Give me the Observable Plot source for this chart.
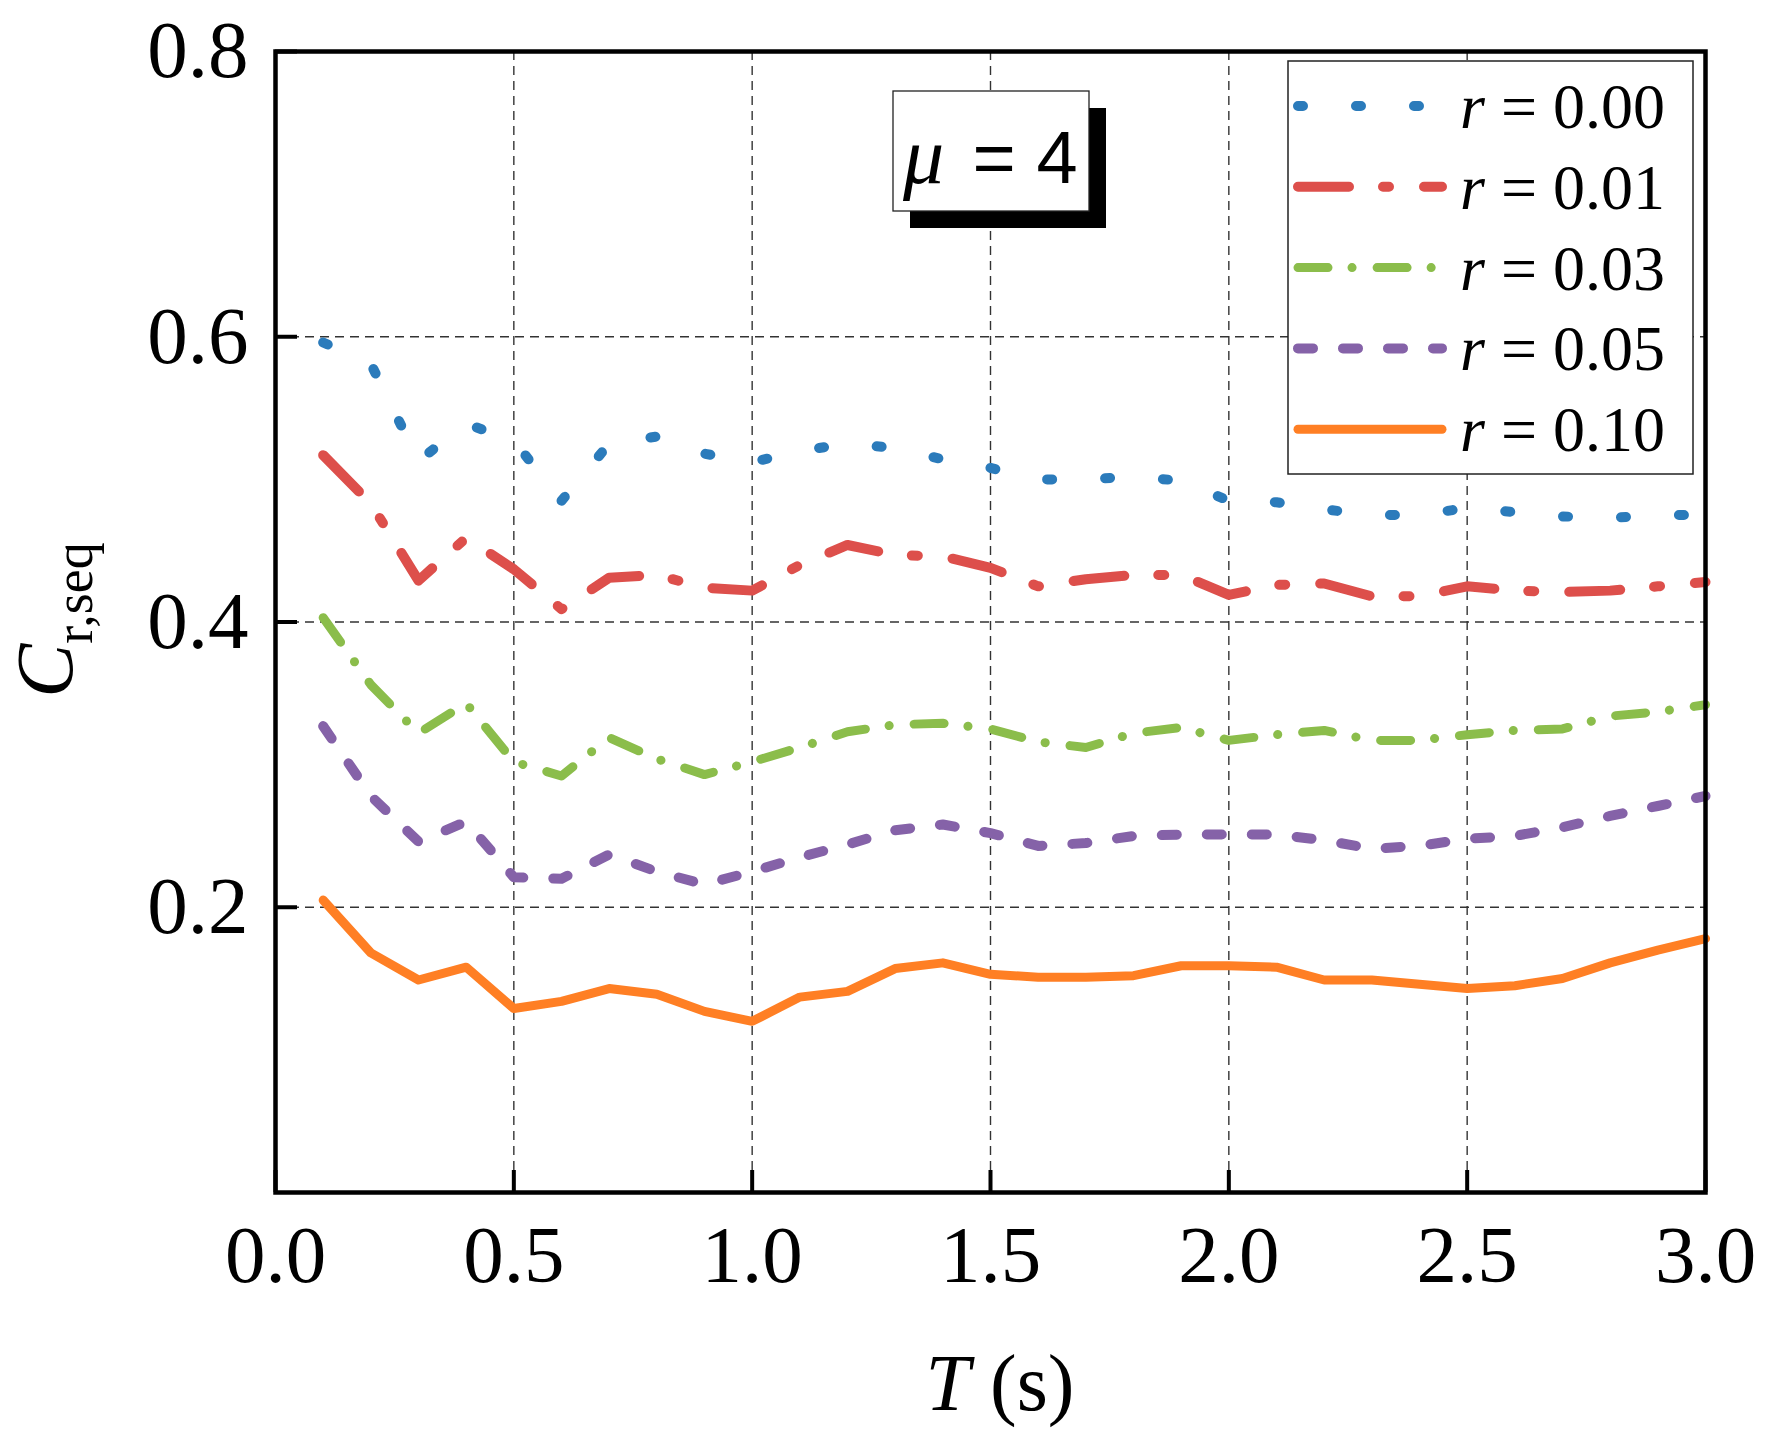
<!DOCTYPE html>
<html>
<head>
<meta charset="utf-8">
<script src="https://cdn.jsdelivr.net/npm/d3@7"></script>
<script src="https://cdn.jsdelivr.net/npm/@observablehq/plot@0.6"></script>
<style>
  body { margin: 0; background: white; overflow: hidden; }
</style>
</head>
<body>
<div id="chart"></div>
<script>
// period T (s)
const T = [0.1, 0.2, 0.3, 0.4, 0.5, 0.6, 0.7, 0.8, 0.9, 1.0,
           1.1, 1.2, 1.3, 1.4, 1.5, 1.6, 1.7, 1.8, 1.9, 2.0,
           2.1, 2.2, 2.3, 2.4, 2.5, 2.6, 2.7, 2.8, 2.9, 3.0];

// C_r,seq, one array per r
const r000 = [0.596, 0.581, 0.513, 0.539, 0.527, 0.485, 0.525, 0.530, 0.518, 0.512,
              0.520, 0.525, 0.522, 0.514, 0.508, 0.500, 0.500, 0.502, 0.499, 0.485,
              0.484, 0.479, 0.475, 0.475, 0.480, 0.477, 0.474, 0.473, 0.475, 0.475];
const r001 = [0.517, 0.483, 0.429, 0.459, 0.437, 0.409, 0.431, 0.433, 0.424, 0.422,
              0.440, 0.454, 0.447, 0.446, 0.438, 0.425, 0.430, 0.433, 0.433, 0.419,
              0.426, 0.427, 0.418, 0.418, 0.425, 0.422, 0.421, 0.422, 0.425, 0.428];
const r003 = [0.403, 0.356, 0.322, 0.343, 0.302, 0.292, 0.319, 0.304, 0.293, 0.302,
              0.312, 0.323, 0.328, 0.329, 0.325, 0.316, 0.312, 0.322, 0.326, 0.317,
              0.321, 0.324, 0.317, 0.317, 0.321, 0.324, 0.325, 0.334, 0.337, 0.342];
const r005 = [0.327, 0.278, 0.246, 0.260, 0.221, 0.220, 0.237, 0.225, 0.216, 0.225,
              0.235, 0.244, 0.254, 0.258, 0.252, 0.243, 0.245, 0.250, 0.251, 0.251,
              0.251, 0.247, 0.241, 0.243, 0.248, 0.250, 0.256, 0.264, 0.271, 0.278];
const r010 = [0.205, 0.168, 0.149, 0.158, 0.129, 0.134, 0.143, 0.139, 0.127, 0.120,
              0.137, 0.141, 0.157, 0.161, 0.153, 0.151, 0.151, 0.152, 0.159, 0.159,
              0.158, 0.149, 0.149, 0.146, 0.143, 0.145, 0.150, 0.161, 0.170, 0.178];

const rLabels = ["0.00", "0.01", "0.03", "0.05", "0.10"];
const xTicks = [0, 0.5, 1.0, 1.5, 2.0, 2.5, 3.0];
const yTicks = [0.2, 0.4, 0.6, 0.8];
const mu = 4;

const seriesValues = [r000, r001, r003, r005, r010];

// line looks, same order as rLabels
const looks = [
  {stroke: "#2b7bbb", width: 10, dash: "5,53"},
  {stroke: "#dd4f4b", width: 10, dash: "51,34,6,35"},
  {stroke: "#8bbd4b", width: 9, dash: "30,24,0.1,25"},
  {stroke: "#8562a8", width: 10, dash: "15,30"},
  {stroke: "#ff7f24", width: 9, dash: null}
];

const rows = seriesValues.flatMap((vals, k) => T.map((t, i) => ({T: t, C: vals[i], r: rLabels[k]})));

const W = 1770, H = 1440;
const mL = 275, mR = 65, mT = 51, mB = 248;
const innerW = W - mL - mR, innerH = H - mT - mB;

const chart = Plot.plot({
  width: W,
  height: H,
  marginLeft: mL,
  marginRight: mR,
  marginTop: mT,
  marginBottom: mB,
  style: {fontFamily: "'Liberation Serif', serif", background: "white"},
  x: {domain: [0, 3]},
  y: {domain: [0, 0.8]},
  marks: [
    Plot.ruleX(xTicks.slice(1, -1), {stroke: "#333", strokeWidth: 1.4, strokeDasharray: "9,6"}),
    Plot.ruleY(yTicks.slice(0, -1), {stroke: "#333", strokeWidth: 1.4, strokeDasharray: "9,6"}),
    ...looks.map((lk, k) => Plot.line(rows, {
      filter: d => d.r === rLabels[k],
      x: "T", y: "C",
      stroke: lk.stroke,
      strokeWidth: lk.width,
      strokeDasharray: lk.dash,
      strokeLinecap: "round",
      strokeLinejoin: "round"
    })),
    // inward ticks
    Plot.tickY(yTicks, {y: d => d, stroke: "black", strokeWidth: 4, insetRight: innerW - 22}),
    Plot.tickX(xTicks, {x: d => d, stroke: "black", strokeWidth: 4, insetTop: innerH - 22}),
    Plot.axisY({ticks: yTicks, tickSize: 0, tickPadding: 27, fontSize: 81, label: null, tickFormat: d3.format(".1f")}),
    Plot.axisX({ticks: xTicks, tickSize: 0, tickPadding: 32, fontSize: 81, label: null, tickFormat: d3.format(".1f")}),
    Plot.frame({stroke: "black", strokeWidth: 4.5})
  ]
});

d3.select("#chart").append(() => chart);
const svg = d3.select(chart);

// legend
const lg = svg.append("g").attr("text-anchor", "start");
lg.append("rect")
  .attr("x", 1288).attr("y", 61).attr("width", 405).attr("height", 413)
  .attr("fill", "white").attr("stroke", "#222").attr("stroke-width", 1.5);
rLabels.forEach((lab, k) => {
  const cy = 106 + k * 80.8;
  const lk = looks[k];
  lg.append("line")
    .attr("x1", 1298).attr("x2", 1442).attr("y1", cy).attr("y2", cy)
    .attr("stroke", lk.stroke).attr("stroke-width", lk.width)
    .attr("stroke-linecap", "round")
    .attr("stroke-dasharray", lk.dash);
  const t = lg.append("text")
    .attr("x", 1460).attr("y", cy + 22)
    .attr("text-anchor", "start")
    .attr("font-family", "'Liberation Serif', serif").attr("font-size", 64)
    .style("white-space", "pre");
  t.append("tspan").attr("font-style", "italic").text("r");
  t.append("tspan").text(" = " + lab);
});

// mu box with shadow
const mb = svg.append("g");
mb.append("rect").attr("x", 910).attr("y", 108).attr("width", 196).attr("height", 120).attr("fill", "black");
mb.append("rect").attr("x", 893).attr("y", 91).attr("width", 196).attr("height", 120)
  .attr("fill", "white").attr("stroke", "#222").attr("stroke-width", 1.3);
mb.append("text").attr("x", 903).attr("y", 183).attr("text-anchor", "start")
  .attr("font-family", "'Liberation Serif', serif").attr("font-style", "italic").attr("font-size", 82)
  .text("μ");
mb.append("text").attr("x", 994).attr("y", 183).attr("text-anchor", "middle")
  .attr("font-family", "'Liberation Sans', sans-serif").attr("font-size", 74)
  .text("=");
mb.append("text").attr("x", 1057).attr("y", 183).attr("text-anchor", "middle")
  .attr("font-family", "'Liberation Sans', sans-serif").attr("font-size", 74)
  .text(mu);

// y title
const yt = svg.append("text")
  .attr("transform", "translate(72,620) rotate(-90)")
  .attr("text-anchor", "middle")
  .attr("font-family", "'Liberation Serif', serif");
yt.append("tspan").attr("font-style", "italic").attr("font-size", 81).text("C");
yt.append("tspan").attr("font-size", 54).attr("dy", 20).text("r,seq");

// x title
const xt = svg.append("text")
  .attr("x", 1000).attr("y", 1410)
  .attr("text-anchor", "middle")
  .attr("font-family", "'Liberation Serif', serif").attr("font-size", 80)
  .style("white-space", "pre");
xt.append("tspan").attr("font-style", "italic").text("T");
xt.append("tspan").text(" (s)");
</script>
</body>
</html>
